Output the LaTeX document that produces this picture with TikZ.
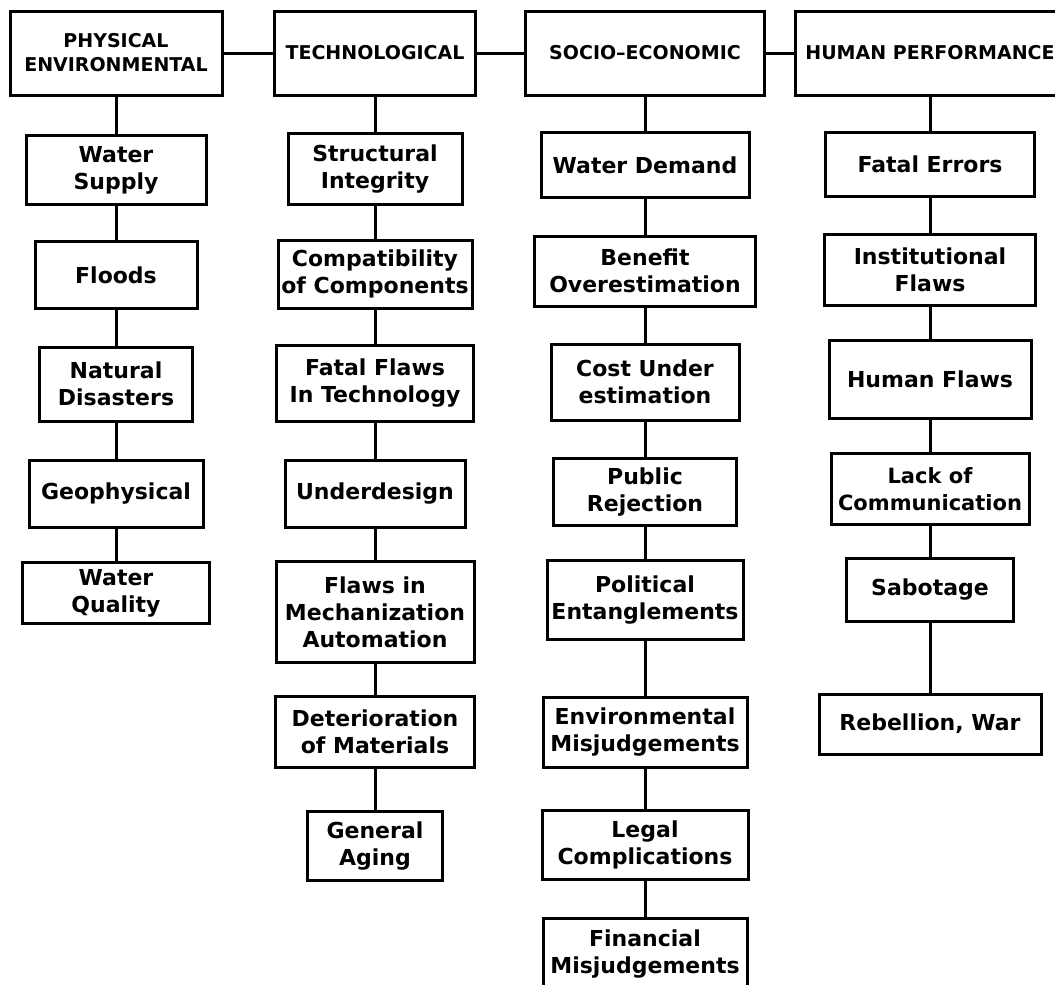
\documentclass[tikz,border=0pt]{standalone}
\usepackage{fontspec}
\setmainfont{DejaVu Sans}

\begin{document}
\begin{tikzpicture}[x=1pt,y=-1pt,
  box/.style={draw, line width=3pt, align=center, inner sep=1pt,
    font=\bfseries\fontsize{22}{27}\selectfont},
  head/.style={box, minimum height=84pt, font=\bfseries\fontsize{19}{24}\selectfont},
  link/.style={line width=3pt}]
\useasboundingbox (0,0) rectangle (1055,985);

% headers
\node[head, minimum width=212pt] (phys)  at (116,53) {PHYSICAL\\ENVIRONMENTAL};
\node[head, minimum width=201pt] (tech)  at (375,53) {TECHNOLOGICAL};
\node[head, minimum width=239pt] (socio) at (645,53) {SOCIO--ECONOMIC};
\node[head, minimum width=270pt] (human) at (930,53) {HUMAN PERFORMANCE};

% physical environmental
\node[box, minimum width=180pt, minimum height=69pt] (supply)   at (116,170) {Water\\Supply};
\node[box, minimum width=162pt, minimum height=67pt] (floods)   at (116,275) {Floods};
\node[box, minimum width=153pt, minimum height=74pt] (disaster) at (116,384) {Natural\\Disasters};
\node[box, minimum width=174pt, minimum height=67pt] (geo)      at (116,494) {Geophysical};
\node[box, minimum width=187pt, minimum height=61pt] (quality)  at (116,593) {Water\\Quality};

% technological
\node[box, minimum width=174pt, minimum height=71pt] (integ)  at (375,169) {Structural\\Integrity};
\node[box, minimum width=194pt, minimum height=68pt] (compat) at (375,274) {Compatibility\\of Components};
\node[box, minimum width=197pt, minimum height=76pt] (fatal)  at (375,383) {Fatal Flaws\\In Technology};
\node[box, minimum width=180pt, minimum height=67pt] (under)  at (375,494) {Underdesign};
\node[box, minimum width=198pt, minimum height=101pt] (mech)  at (375,612) {Flaws in\\Mechanization\\Automation};
\node[box, minimum width=199pt, minimum height=71pt] (deter)  at (375,732) {Deterioration\\of Materials};
\node[box, minimum width=135pt, minimum height=69pt] (aging)  at (375,846) {General\\Aging};

% socio-economic
\node[box, minimum width=208pt, minimum height=65pt] (demand)  at (645,165) {Water Demand};
\node[box, minimum width=221pt, minimum height=70pt] (benefit) at (645,271) {Benefit\\Overestimation};
\node[box, minimum width=188pt, minimum height=76pt] (cost)    at (645,382) {Cost Under\\estimation};
\node[box, minimum width=183pt, minimum height=67pt] (public)  at (645,492) {Public\\Rejection};
\node[box, minimum width=196pt, minimum height=79pt] (polit)   at (645,600) {Political\\Entanglements};
\node[box, minimum width=204pt, minimum height=70pt] (envmis)  at (645,732) {Environmental\\Misjudgements};
\node[box, minimum width=206pt, minimum height=69pt] (legal)   at (645,845) {Legal\\Complications};
\node[box, minimum width=204pt, minimum height=72pt] (finmis)  at (645,954) {Financial\\Misjudgements};

% human performance
\node[box, minimum width=209pt, minimum height=64pt] (errors) at (930,164) {Fatal Errors};
\node[box, minimum width=211pt, minimum height=71pt] (instit) at (930,270) {Institutional\\Flaws};
\node[box, minimum width=202pt, minimum height=78pt] (hflaws) at (930,379) {Human Flaws};
\node[box, minimum width=198pt, minimum height=71pt,
  font=\bfseries\fontsize{21}{27}\selectfont] (comm)          at (930,489) {Lack of\\Communication};
\node[box, minimum width=167pt, minimum height=63pt] (sabot)  at (930,590) {Sabotage};
\node[box, minimum width=222pt, minimum height=60pt] (war)    at (930,724) {Rebellion, War};

\path[link]
(phys) edge (tech)
(tech) edge (socio)
(socio) edge (human)
;
\path[link]
(phys) edge (supply)
(supply) edge (floods)
(floods) edge (disaster)
(disaster) edge (geo)
(geo) edge (quality)
;
\path[link]
(tech) edge (integ)
(integ) edge (compat)
(compat) edge (fatal)
(fatal) edge (under)
(under) edge (mech)
(mech) edge (deter)
(deter) edge (aging)
;
\path[link]
(socio) edge (demand)
(demand) edge (benefit)
(benefit) edge (cost)
(cost) edge (public)
(public) edge (polit)
(polit) edge (envmis)
(envmis) edge (legal)
(legal) edge (finmis)
;
\path[link]
(human) edge (errors)
(errors) edge (instit)
(instit) edge (hflaws)
(hflaws) edge (comm)
(comm) edge (sabot)
(sabot) edge (war)
;
\end{tikzpicture}
\end{document}
